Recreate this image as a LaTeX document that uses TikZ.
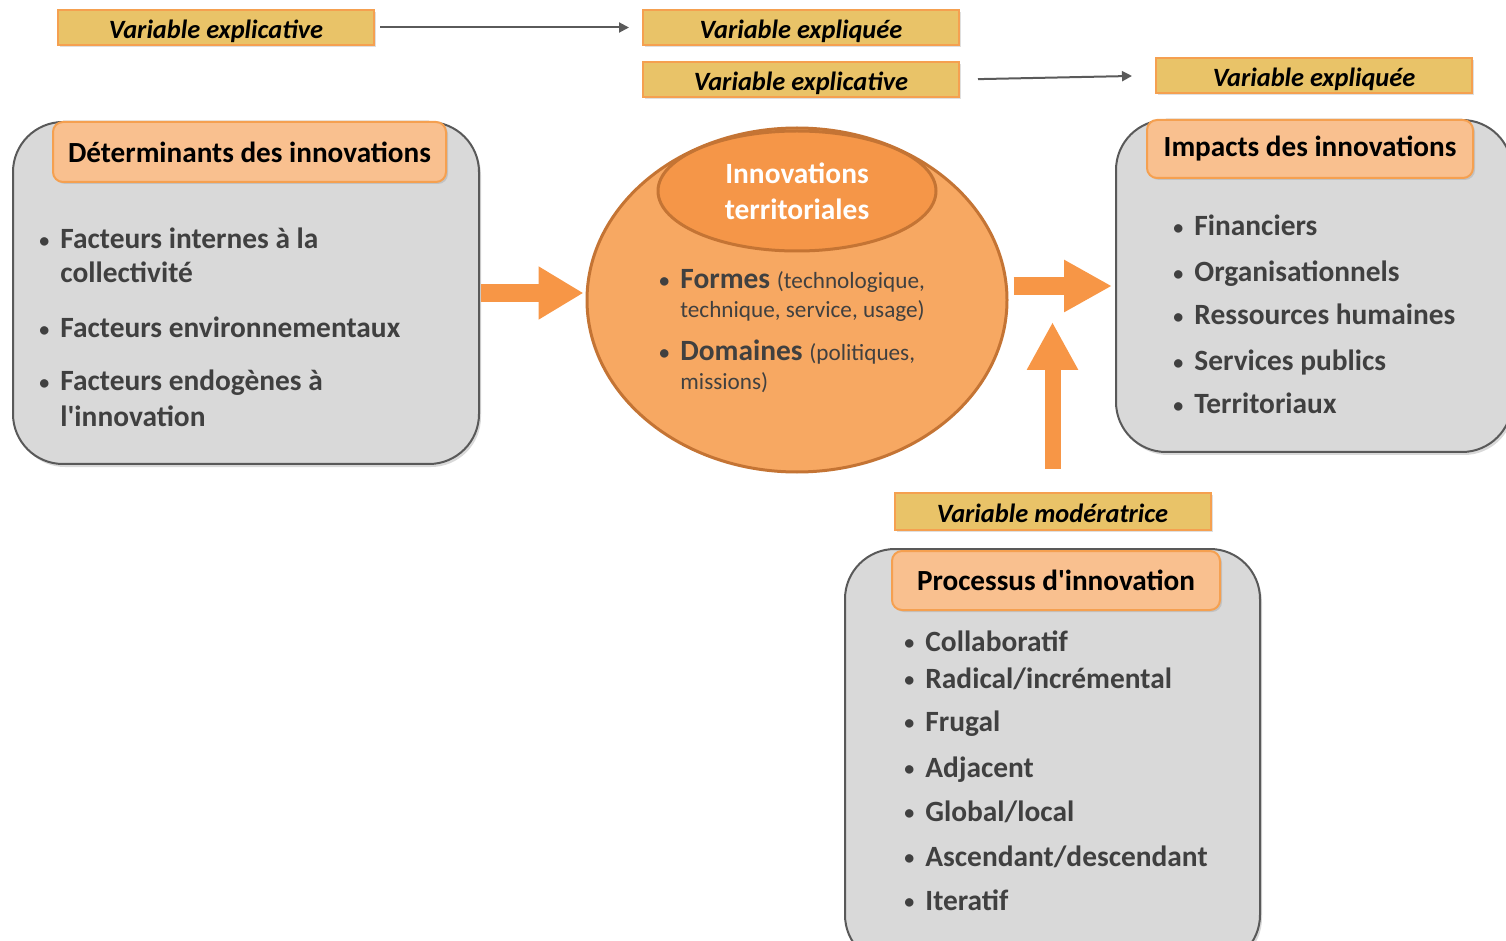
\documentclass[tikz,border=0pt]{standalone}
\usepackage{fontspec}
\setmainfont{Carlito}
\usetikzlibrary{arrows.meta, positioning, shapes.geometric, shadows}

\definecolor{labgold}{RGB}{233,195,104}
\definecolor{laborange}{RGB}{245,160,80}
\definecolor{headpeach}{RGB}{249,192,143}
\definecolor{boxgray}{RGB}{217,217,217}
\definecolor{boxedge}{RGB}{89,89,89}
\definecolor{ovalfill}{RGB}{247,168,98}
\definecolor{ovaledge}{RGB}{196,116,52}
\definecolor{ovaltop}{RGB}{245,150,72}
\definecolor{fatorange}{RGB}{247,150,70}
\definecolor{txtgray}{RGB}{64,64,64}
\definecolor{linkgray}{RGB}{90,90,90}

\newcommand{\blt}{\llap{\raisebox{0.9pt}{\fontsize{10}{10}\selectfont\textbullet}\hspace{5.5pt}}}

\tikzset{
  varlabel/.style={draw=laborange, line width=1pt, fill=labgold, minimum width=158pt,
    minimum height=17.5pt, inner sep=0pt, text height=12pt, text depth=0.5pt,
    font=\fontsize{13.2}{15}\selectfont\bfseries\itshape,
    drop shadow={opacity=0.25, shadow xshift=1pt, shadow yshift=-1pt}},
  greybox/.style={draw=boxedge, line width=1pt, fill=boxgray, rounded corners=25pt,
    drop shadow={opacity=0.3, shadow xshift=1pt, shadow yshift=-1.5pt}},
  headbox/.style={draw=laborange, line width=1pt, fill=headpeach, rounded corners=5pt,
    inner sep=0pt, font=\fontsize{14.6}{17}\selectfont\bfseries,
    drop shadow={opacity=0.25, shadow xshift=1pt, shadow yshift=-1pt}},
  item/.style={anchor=base west, inner sep=0pt, text=txtgray, font=\fontsize{14.7}{17}\selectfont\bfseries},
  paren/.style={item, font=\fontsize{11.6}{14}\selectfont},
  fatarrow/.style={draw=fatorange, line width=9pt, -{Triangle[length=22.5pt, width=25pt]}},
  linkarrow/.style={draw=linkgray, line width=1pt, -{Triangle[length=5pt, width=5pt]}}
}

\begin{document}
\begin{tikzpicture}[x=0.5pt, y=-0.5pt]
    \useasboundingbox (0,0) rectangle (1506,941);
    \clip (0,0) rectangle (1506,941);
    %
    \node [varlabel] (ve1) at (216,27.5) {Variable explicative};
    \node [varlabel] (vq1) at (801,27.5) {Variable expliquée};
    \node [varlabel, below=7.5pt of vq1] (ve2) {Variable explicative};
    \node [varlabel] (vq2) at (1314,75.5) {Variable expliquée};
    \node [varlabel, minimum height=18.5pt] (vm) at (1052.5,511.5) {Variable modératrice};
    %
    \draw [linkarrow, shorten <=2.5pt, shorten >=6.5pt] (ve1.east) -- (vq1.west);
    \draw [linkarrow, shorten <=9pt, shorten >=11.5pt] (ve2.east) -- (vq2.west);
    %
    \node [greybox, minimum width=233pt, minimum height=171pt] (det) at (246,293) {};
    \node [greybox, minimum width=198pt, minimum height=166pt] (imp) at (1314,286) {};
    \node [greybox, minimum width=207.5pt, minimum height=208pt] (proc) at (1052.5,757) {};
    %
    \node [headbox, minimum width=196.5pt, minimum height=30pt] (dethead) at (249.5,152) {Déterminants des innovations};
    \node [headbox, minimum width=163pt, minimum height=29pt] (imphead) at (1310,149) {Impacts des innovations};
    \node [headbox, minimum width=164pt, minimum height=29.5pt] (prochead) at (1056,580.5) {Processus d\textquotesingle innovation};
    %
    \node [ellipse, draw=ovaledge, line width=1.5pt, fill=ovalfill, minimum width=210pt,
        minimum height=172pt, inner sep=0pt] (oval) at (797,300) {};
    \node [ellipse, draw=ovaledge, line width=1.5pt, fill=ovaltop, minimum width=139pt,
        minimum height=60pt, inner sep=0pt, align=center, text=white,
        font=\fontsize{14.7}{18}\selectfont\bfseries] (ovaltop) at (797,191) {Innovations\\territoriales};
    %
    \node [item] (d1) at (60,249) {\blt Facteurs internes à la};
    \node [item] (d1b) at (60,283) {collectivité};
    \node [item] (d2) at (60,338) {\blt Facteurs environnementaux};
    \node [item] (d3) at (60,391) {\blt Facteurs endogènes à};
    \node [item] (d3b) at (60,427) {l\textquotesingle innovation};
    %
    \node [item] (f1) at (680,289) {\blt Formes {\mdseries\fontsize{11.6}{14}\selectfont (technologique,}};
    \node [paren] (f1b) at (680,318) {technique, service, usage)};
    \node [item] (f2) at (680,361) {\blt Domaines {\mdseries\fontsize{11.6}{14}\selectfont (politiques,}};
    \node [paren] (f2b) at (680,390) {missions)};
    %
    \node [item] (i1) at (1194,236) {\blt Financiers};
    \node [item] (i2) at (1194,282) {\blt Organisationnels};
    \node [item] (i3) at (1194,325) {\blt Ressources humaines};
    \node [item] (i4) at (1194,371) {\blt Services publics};
    \node [item] (i5) at (1194,414) {\blt Territoriaux};
    %
    \node [item] (p1) at (925,651) {\blt Collaboratif};
    \node [item] (p2) at (925,688) {\blt Radical/incrémental};
    \node [item] (p3) at (925,731) {\blt Frugal};
    \node [item] (p4) at (925,777) {\blt Adjacent};
    \node [item] (p5) at (925,821) {\blt Global/local};
    \node [item] (p6) at (925,866) {\blt Ascendant/descendant};
    \node [item] (p7) at (925,910) {\blt Iteratif};
    %
    \coordinate (tip) at (1051,322);
    \draw [fatarrow, shorten <=0.5pt, shorten >=1pt] (det.east) -- (det.east -| oval.west);
    \draw [fatarrow, -{Triangle[length=24pt, width=24.5pt]}, shorten <=2.5pt, shorten >=1.5pt] (oval.east |- imp.west) -- (imp.west);
    \draw [fatarrow, line width=8pt, -{Triangle[length=24pt, width=24pt]}, shorten <=11.5pt] (vm.north) -- (vm.north |- tip);
\end{tikzpicture}
\end{document}
